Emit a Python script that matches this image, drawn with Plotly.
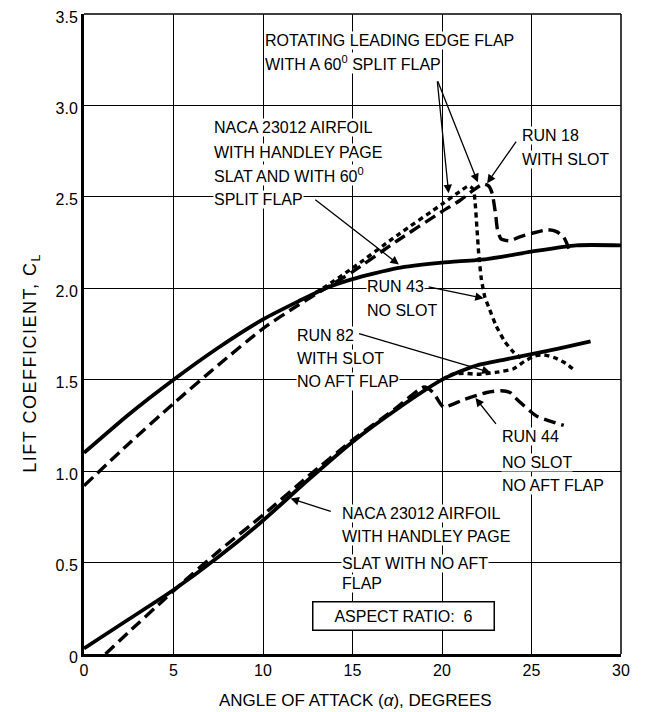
import plotly.graph_objects as go

# ---------------- data ----------------
# NACA 23012 airfoil with Handley Page slat and 60 deg split flap (solid, upper)
hp_flap_alpha = [0, 2.5, 5, 7.5, 10, 12, 13.5, 15, 17.5, 20, 22.5, 25, 27.5, 30]
hp_flap_cl = [1.10, 1.31, 1.50, 1.675, 1.83, 1.93, 2.00, 2.05, 2.11, 2.14, 2.16, 2.20, 2.235, 2.235]

# Rotating leading edge flap with 60 deg split flap, Run 18 with slot (long dash)
run18_alpha = [0, 2.5, 5, 7.5, 10, 12, 13.5, 15, 17.5, 20, 21, 21.8, 22.3, 22.6, 22.8, 23.0, 23.1,
               23.3, 23.8, 24.3, 25.0, 25.9, 26.4, 26.8, 27.2]
run18_cl = [0.92, 1.15, 1.37, 1.58, 1.78, 1.91, 2.00, 2.09, 2.26, 2.42, 2.48, 2.54, 2.57, 2.56, 2.52,
            2.40, 2.32, 2.27, 2.26, 2.28, 2.30, 2.32, 2.31, 2.28, 2.19]

# Run 43 no slot (short dash)
run43_alpha = [12.5, 13.5, 15, 17.5, 20, 21, 21.5, 21.75, 21.85, 21.95, 22.05, 22.2, 22.4, 22.6,
               23.0, 23.5, 24.0, 24.4]
run43_cl = [1.95, 2.01, 2.11, 2.29, 2.46, 2.53, 2.56, 2.54, 2.47, 2.33, 2.19, 2.05, 1.95, 1.90,
            1.80, 1.71, 1.65, 1.62]

# NACA 23012 airfoil with Handley Page slat, no aft flap (solid, lower)
hp_noflap_alpha = [0, 2.5, 5, 7.5, 10, 12.5, 15, 17.5, 20, 21, 22, 23.5, 25, 26.5, 28.3]
hp_noflap_cl = [0.03, 0.19, 0.35, 0.53, 0.73, 0.95, 1.16, 1.34, 1.50, 1.545, 1.58, 1.61, 1.64, 1.67, 1.71]

# Run 44 no slot, no aft flap (long dash)
run44_alpha = [1.2, 2.5, 4.5, 5.5, 7.5, 10, 12.5, 15, 17.5, 19.0, 19.5, 19.9, 20.1, 21.2, 22.5,
               23.3, 23.8, 24.1, 24.9, 25.3, 26.8]
run44_cl = [0.0, 0.12, 0.30, 0.39, 0.56, 0.76, 0.97, 1.17, 1.35, 1.46, 1.43, 1.37, 1.35, 1.39, 1.43,
            1.44, 1.43, 1.40, 1.33, 1.30, 1.25]

# Run 82 with slot, no aft flap (short dash)
run82_alpha = [20.0, 20.6, 21.2, 22.0, 23.0, 24.0, 24.6, 25.2, 25.7, 26.3, 26.9, 27.3]
run82_cl = [1.50, 1.53, 1.535, 1.53, 1.54, 1.56, 1.60, 1.63, 1.635, 1.62, 1.59, 1.56]

x_ticks = [0, 5, 10, 15, 20, 25, 30]
y_ticks = [0, 0.5, 1.0, 1.5, 2.0, 2.5, 3.0, 3.5]
y_tick_text = ["0", "0.5", "1.0", "1.5", "2.0", "2.5", "3.0", "3.5"]

FONT = "Liberation Sans, Arial, sans-serif"
BLACK = "black"

fig = go.Figure()

def add_curve(x, y, dash, width=3.4):
    fig.add_trace(go.Scatter(x=x, y=y, mode="lines",
                             line=dict(color=BLACK, width=width, dash=dash, shape="spline", smoothing=0.6),
                             hoverinfo="skip"))

add_curve(hp_flap_alpha, hp_flap_cl, "solid", 3.8)
add_curve(hp_noflap_alpha, hp_noflap_cl, "solid", 3.8)
add_curve(run18_alpha, run18_cl, "12px,6px")
add_curve(run43_alpha, run43_cl, "5px,4px")
add_curve(run44_alpha, run44_cl, "12px,6px")
add_curve(run82_alpha, run82_cl, "5px,4px")

# ---------------- text labels ----------------
def add_text(lines, x, ys, size=16):
    for t, yy in zip(lines, ys):
        fig.add_annotation(x=x, y=yy, xref="x", yref="y", text=t, showarrow=False,
                           xanchor="left", yanchor="middle", bgcolor="white",
                           font=dict(family=FONT, size=size, color=BLACK), borderpad=0)

add_text(["ROTATING LEADING EDGE FLAP", "WITH A 60<sup>0</sup> SPLIT FLAP"], 10.08, [3.356, 3.232])
add_text(["NACA 23012 AIRFOIL", "WITH HANDLEY PAGE", "SLAT AND WITH 60<sup>0</sup>", "SPLIT FLAP"],
         7.22, [2.882, 2.745, 2.617, 2.484])
add_text(["RUN 18", "WITH SLOT"], 24.39, [2.834, 2.703])
add_text(["RUN 43", "NO SLOT"], 15.75, [2.009, 1.881])
add_text(["RUN 82", "WITH SLOT", "NO AFT FLAP"], 11.87, [1.744, 1.617, 1.489])
add_text(["RUN 44", "NO SLOT", "NO AFT FLAP"], 23.31, [1.187, 1.050, 0.923])
add_text(["NACA 23012 AIRFOIL", "WITH HANDLEY PAGE", "SLAT WITH NO AFT", "FLAP"],
         14.33, [0.768, 0.640, 0.494, 0.384])

fig.add_annotation(x=17.87, y=0.207, xref="x", yref="y", text="ASPECT RATIO:  6", showarrow=False,
                   xanchor="center", yanchor="middle", bgcolor="white", bordercolor=BLACK,
                   borderwidth=1.5, borderpad=5, width=170,
                   font=dict(family=FONT, size=16, color=BLACK))

# ---------------- leader arrows ----------------
def add_arrow(tail_x, tail_y, tip_x, tip_y):
    fig.add_annotation(x=tip_x, y=tip_y, ax=tail_x, ay=tail_y, xref="x", yref="y",
                       axref="x", ayref="y", text="", showarrow=True, arrowhead=2,
                       arrowsize=1.3, arrowwidth=1.3, arrowcolor=BLACK, standoff=0)

add_arrow(19.73, 3.14, 20.37, 2.52)
add_arrow(19.73, 3.14, 22.0, 2.58)
add_arrow(24.2, 2.81, 22.52, 2.575)
add_arrow(12.84, 2.49, 17.59, 2.13)
add_arrow(19.17, 2.01, 22.33, 1.945)
add_arrow(15.28, 1.755, 22.71, 1.54)
add_arrow(23.08, 1.25, 21.87, 1.40)
add_arrow(13.87, 0.777, 11.54, 0.85)

# frame: thin top and right borders
fig.add_shape(type="line", xref="paper", yref="paper", x0=0, x1=1, y0=1, y1=1,
              line=dict(color=BLACK, width=1.5))
fig.add_shape(type="line", xref="paper", yref="paper", x0=1, x1=1, y0=0, y1=1,
              line=dict(color=BLACK, width=1.5))

# axis titles
fig.add_annotation(xref="paper", yref="paper", x=0.505, y=-0.072, text="ANGLE OF ATTACK (<i>α</i>), DEGREES",
                   showarrow=False, xanchor="center", yanchor="middle",
                   font=dict(family=FONT, size=17, color=BLACK))
fig.add_annotation(xref="paper", yref="paper", x=-0.097, y=0.455,
                   text="<span style='letter-spacing:1.5px'>LIFT COEFFICIENT, C<sub>L</sub></span>",
                   showarrow=False, xanchor="center", yanchor="middle", textangle=-90,
                   font=dict(family=FONT, size=18, color=BLACK))

# the page body adds an 8px offset, so the figure is 8px smaller than the window
fig.update_layout(
    width=637, height=704,
    margin=dict(l=76, r=24, t=6, b=58, autoexpand=False),
    paper_bgcolor="white", plot_bgcolor="white",
    showlegend=False,
    xaxis=dict(range=[0, 30], tickvals=x_ticks, showgrid=True, gridcolor=BLACK, gridwidth=1,
               showline=True, linecolor=BLACK, linewidth=3, zeroline=False, ticks="",
               automargin=False, ticklabeloverflow="allow",
               tickfont=dict(family=FONT, size=16, color=BLACK), fixedrange=True),
    yaxis=dict(range=[0, 3.5], tickvals=y_ticks, ticktext=y_tick_text, showgrid=True,
               gridcolor=BLACK, gridwidth=1, showline=True, linecolor=BLACK, linewidth=3,
               zeroline=False, ticks="", automargin=False, ticklabeloverflow="allow",
               ticklabelshift=3,
               tickfont=dict(family=FONT, size=16, color=BLACK),
               fixedrange=True),
)

fig.write_html("out.html")
